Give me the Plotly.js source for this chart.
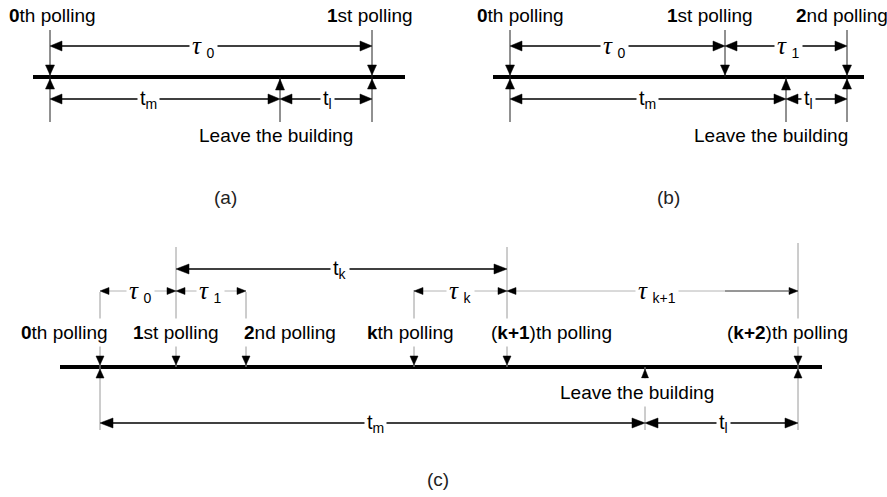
<!DOCTYPE html>
<html>
<head>
<meta charset="utf-8">
<script src="https://cdn.plot.ly/plotly-3.0.1.min.js"></script>
<style>html,body{margin:0;padding:0;background:#fff;}#chart{width:887px;height:497px;}</style>
</head>
<body>
<div id="chart"></div>
<script>
// ---------- data: event times on each timeline ----------
const pollA = [50, 372];
const pollNamesA = ['<b>0</b>th polling', '<b>1</b>st polling'];
const leaveA = 280;

const pollB = [510, 725, 847];
const pollNamesB = ['<b>0</b>th polling', '<b>1</b>st polling', '<b>2</b>nd polling'];
const leaveB = 786;

const pollC = [100, 176, 246, 414, 507, 798];
const pollNamesC = ['<b>0</b>th polling', '<b>1</b>st polling', '<b>2</b>nd polling',
                    '<b>k</b>th polling', '(<b>k+1</b>)th polling', '(<b>k+2</b>)th polling'];
const leaveC = 645;

const tauSubsA = ['0'];
const tauSubsB = ['0', '1'];
const tauSubsC = ['0', '1', 'k', 'k+1'];
const tauPairsC = [[0, 1], [1, 2], [3, 4], [4, 5]];

const leaveText = 'Leave the building';
const panelNames = ['(a)', '(b)', '(c)'];

// ---------- drawing helpers ----------
const SANS = 'Liberation Sans, Arial, Helvetica, sans-serif';
const FS = 19;
const shapes = [], annotations = [];
function seg(x0, y0, x1, y1, color, w) {
  shapes.push({type: 'line', xref: 'x', yref: 'y', x0, y0, x1, y1, line: {color, width: w}});
}
function head(x, y, dir, len, wid, color) {
  const h = wid / 2; let p;
  if (dir === 'r') p = `M${x},${y}L${x - len},${y - h}L${x - len},${y + h}Z`;
  if (dir === 'l') p = `M${x},${y}L${x + len},${y - h}L${x + len},${y + h}Z`;
  if (dir === 'd') p = `M${x},${y}L${x - h},${y - len}L${x + h},${y - len}Z`;
  if (dir === 'u') p = `M${x},${y}L${x - h},${y + len}L${x + h},${y + len}Z`;
  shapes.push({type: 'path', xref: 'x', yref: 'y', path: p, fillcolor: color, line: {color, width: 0.5}});
}
function label(x, y, text, size, opts) {
  annotations.push(Object.assign({x, y, xref: 'x', yref: 'y', text, showarrow: false,
    xanchor: 'center', yanchor: 'middle', font: {family: SANS, size, color: '#000'}}, opts || {}));
}
function tau(sub) {
  return '<span style="font-family:Liberation Serif;font-style:italic;font-size:25px">τ</span> <sub>' + sub + '</sub>';
}
function tsub(sub) { return 't<sub>' + sub + '</sub>'; }
function dim(x0, x1, y, text, lineColor, lw, hl, hw, lx) {
  seg(x0 + 2, y, x1 - 2, y, lineColor, lw);
  head(x0, y, 'l', hl, hw, '#000');
  head(x1, y, 'r', hl, hw, '#000');
  label(lx !== undefined ? lx : (x0 + x1) / 2, y, text, 20, {bgcolor: '#fff', borderpad: 2});
}

// ---------- panel (a) ----------
(function () {
  const ty = 77, vCol = '#222';
  seg(33, ty, 405, ty, '#000', 4);
  const off = [2, -2];
  pollA.forEach((x, i) => {
    seg(x, 30, x, 122, vCol, 1);
    head(x, ty - 2, 'd', 10, 9, '#000');
    head(x, ty + 2, 'u', 10, 9, '#000');
    label(x + off[i], 15, pollNamesA[i], FS);
  });
  seg(leaveA, ty, leaveA, 122, vCol, 1);
  head(leaveA, ty + 2, 'u', 11, 9, '#000');
  label(leaveA - 4, 135, leaveText, FS);
  dim(pollA[0], pollA[1], 46, tau(tauSubsA[0]), '#000', 1.6, 12, 10, 203);
  dim(pollA[0], leaveA, 99, tsub('m'), '#000', 1.6, 12, 10, 148);
  dim(leaveA, pollA[1], 99, tsub('l'), '#000', 1.6, 12, 10, 327);
  label(225, 197, panelNames[0], FS, {font: {family: SANS, size: FS, color: '#222'}});
})();

// ---------- panel (b) ----------
(function () {
  const ty = 77, vCol = '#222';
  seg(493, ty, 864, ty, '#000', 4);
  const off = [10, -15, -5];
  pollB.forEach((x, i) => {
    const both = i !== 1;
    seg(x, 30, x, both ? 122 : ty, vCol, 1);
    head(x, ty - 2, 'd', 10, 9, '#000');
    if (both) head(x, ty + 2, 'u', 10, 9, '#000');
    label(x + off[i], 15, pollNamesB[i], FS);
  });
  seg(leaveB, ty, leaveB, 122, vCol, 1);
  head(leaveB, ty + 2, 'u', 11, 9, '#000');
  label(leaveB - 15, 135, leaveText, FS);
  dim(pollB[0], pollB[1], 46, tau(tauSubsB[0]), '#000', 1.6, 12, 10, 614);
  dim(pollB[1], pollB[2], 46, tau(tauSubsB[1]), '#000', 1.6, 12, 10, 788);
  dim(pollB[0], leaveB, 99, tsub('m'), '#000', 1.6, 12, 10, 647);
  dim(leaveB, pollB[2], 99, tsub('l'), '#000', 1.6, 12, 10, 808);
  label(668, 197, panelNames[1], FS, {font: {family: SANS, size: FS, color: '#222'}});
})();

// ---------- panel (c) ----------
(function () {
  const ty = 367, vCol = '#9a9a9a';
  seg(60, ty, 822, ty, '#000', 4);
  const off = [-36, 0, 44, -4, 44, -11];
  const tops = [292, 247, 292, 290, 247, 243];
  const bottoms = [430, ty, ty, ty, ty, 430];
  pollC.forEach((x, i) => {
    seg(x, tops[i], x, bottoms[i], vCol, 1);
    head(x, ty - 2, 'd', 9, 8, '#000');
    if (bottoms[i] > ty) head(x, ty + 2, 'u', 9, 8, '#000');
    label(x + off[i], 332, pollNamesC[i], FS, {bgcolor: '#fff', borderpad: 3});
  });
  seg(leaveC, ty, leaveC, 430, vCol, 1);
  head(leaveC, ty + 2, 'u', 9, 7, '#000');
  label(leaveC - 8, 392, leaveText, FS, {bgcolor: '#fff', borderpad: 3});

  const tauLX = [140, 210, 460, 657];
  tauPairsC.forEach((p, i) => {
    dim(pollC[p[0]], pollC[p[1]], 291, tau(tauSubsC[i]), '#b4b4b4', 1, 9, 7, tauLX[i]);
  });
  seg(725, 291, pollC[5] - 8, 291, '#555', 1.2);
  dim(pollC[1], pollC[4], 269, tsub('k'), '#000', 1.6, 13, 10, 340);
  dim(pollC[0], leaveC, 423, tsub('m'), '#000', 1.4, 13, 10, 375);
  dim(leaveC, pollC[5], 423, tsub('l'), '#000', 1.4, 13, 10, 723);
  label(438, 479, panelNames[2], FS, {font: {family: SANS, size: FS, color: '#222'}});
})();

const data = [{x: [0], y: [0], mode: 'markers', marker: {opacity: 0}, hoverinfo: 'skip', showlegend: false}];
const layout = {
  width: 887, height: 497,
  margin: {l: 0, r: 0, t: 0, b: 0, pad: 0},
  paper_bgcolor: '#fff', plot_bgcolor: '#fff',
  showlegend: false,
  xaxis: {range: [0, 887], visible: false, fixedrange: true},
  yaxis: {range: [497, 0], visible: false, fixedrange: true},
  shapes, annotations
};
Plotly.newPlot('chart', data, layout, {displayModeBar: false, staticPlot: true});
</script>
</body>
</html>
